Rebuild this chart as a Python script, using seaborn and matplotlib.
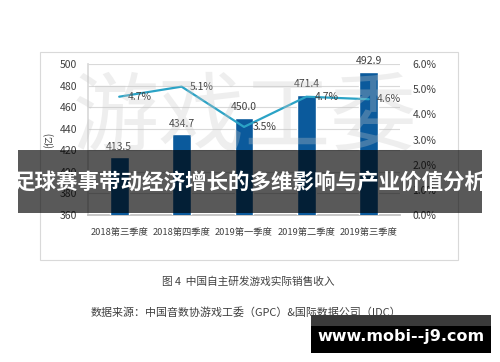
import matplotlib
matplotlib.use("Agg")
import matplotlib.pyplot as plt
import seaborn as sns
import pandas as pd
from matplotlib.patches import Rectangle
from matplotlib.ticker import FuncFormatter, FixedLocator

quarters = ["2018第三季度", "2018第四季度", "2019第一季度", "2019第二季度", "2019第三季度"]
revenue = [413.5, 434.7, 450.0, 471.4, 492.9]
growth = [4.7, 5.1, 3.5, 4.7, 4.6]
rev_labels = ["413.5", "434.7", "450.0", "471.4", "492.9"]
growth_labels = ["4.7%", "5.1%", "3.5%", "4.7%", "4.6%"]

sns.set_theme(style="white")
plt.rcParams['font.family'] = ['Noto Sans CJK SC', 'DejaVu Sans']

W, H = 500, 362
fig = plt.figure(figsize=(5.0, 3.62), dpi=100)
fig.patch.set_facecolor("white")

def fx(x):
    return x / W
def fy(y):
    return 1 - y / H

# chart border box
fig.patches.append(Rectangle((fx(40), fy(260)), fx(458) - fx(40), fy(52) - fy(260),
                             transform=fig.transFigure, fill=False, edgecolor="#d9d9d9",
                             linewidth=0.8, zorder=0))

ax = fig.add_axes([fx(88), fy(215), fx(400) - fx(88), fy(64) - fy(215)])
df = pd.DataFrame({"q": quarters, "rev": revenue, "g": growth})

sns.barplot(data=df, x="q", y="rev", color="#0b5a9c", width=0.3, ax=ax,
            saturation=1, zorder=3)
ax.set_ylim(360, 500)
ax.set_yticks(range(360, 501, 20))
ax.yaxis.grid(True, color="#d9d9d9", linewidth=0.8)
ax.set_axisbelow(True)
ax.set_xlabel("")
ax.set_ylabel("(亿)", fontsize=7, color="#404040", labelpad=4)
ax.tick_params(axis="y", labelsize=7.5, colors="#404040", length=0, pad=8)
ax.tick_params(axis="x", labelsize=6.7, colors="#404040", length=0, pad=9)
ax.xaxis.set_minor_locator(FixedLocator([-0.5, 0.5, 1.5, 2.5, 3.5, 4.5]))
ax.tick_params(axis="x", which="minor", length=3, color="#bfbfbf", width=0.8)
for s in ["top", "right"]:
    ax.spines[s].set_visible(False)
ax.spines["left"].set_color("#d9d9d9")
ax.spines["bottom"].set_color("#bfbfbf")
ax.set_xlim(-0.5, 4.5)

for i, (v, lab) in enumerate(zip(revenue, rev_labels)):
    ax.annotate(lab, (i, v), xytext=(0, 4), textcoords="offset points",
                ha="center", va="bottom", fontsize=7.5, color="#404040", zorder=5)

ax2 = ax.twinx()
sns.lineplot(x=list(range(len(quarters))), y=growth, ax=ax2, color="#2ba3c6",
             linewidth=1.6, zorder=4)
ax2.set_ylim(0, 6)
ax2.set_yticks([0, 1, 2, 3, 4, 5, 6])
ax2.yaxis.set_major_formatter(FuncFormatter(lambda v, p: f"{v:.1f}%"))
ax2.tick_params(axis="y", labelsize=7.5, colors="#404040", length=0, pad=9)
for s in ["top", "right", "left", "bottom"]:
    ax2.spines[s].set_visible(False)
ax2.set_xlim(-0.5, 4.5)
for i, (v, lab) in enumerate(zip(growth, growth_labels)):
    ax2.annotate(lab, (i, v), xytext=(6, 0), textcoords="offset points",
                 ha="left", va="center", fontsize=7.5, color="#404040", zorder=5)

# watermark text
fig.text(fx(245), fy(120), "游戏工委", fontsize=62, color="#c8c8c8", alpha=0.3,
         ha="center", va="center", zorder=10, fontweight="light")

# captions
fig.text(fx(248), fy(282), "图 4  中国自主研发游戏实际销售收入", fontsize=7.7,
         color="#404040", ha="center", va="center")
fig.text(fx(246), fy(312), "数据来源：中国音数协游戏工委（GPC）&国际数据公司（IDC）", fontsize=7.9,
         color="#404040", ha="center", va="center")

# title banner
fig.patches.append(Rectangle((fx(18), fy(213)), fx(482) - fx(18), fy(150) - fy(213),
                             transform=fig.transFigure, facecolor="black", alpha=0.65,
                             edgecolor="none", zorder=20))
fig.text(0.5, fy(182), "足球赛事带动经济增长的多维影响与产业价值分析", fontsize=15.5,
         fontweight="bold", color="white", ha="center", va="center", zorder=21)

# url box
fig.patches.append(Rectangle((fx(311), fy(326)), fx(491) - fx(311), fy(315) - fy(326),
                             transform=fig.transFigure, facecolor="#3a3a3a",
                             edgecolor="none", zorder=20))
fig.patches.append(Rectangle((fx(311), fy(353)), fx(491) - fx(311), fy(326) - fy(353),
                             transform=fig.transFigure, facecolor="black",
                             edgecolor="none", zorder=20))
fig.text(fx(401), fy(336), "www.mobi--j9.com", fontsize=11.5, fontweight="bold",
         color="white", ha="center", va="center", zorder=21, family="DejaVu Sans")

fig.savefig("out.png", dpi=100, facecolor="white")
